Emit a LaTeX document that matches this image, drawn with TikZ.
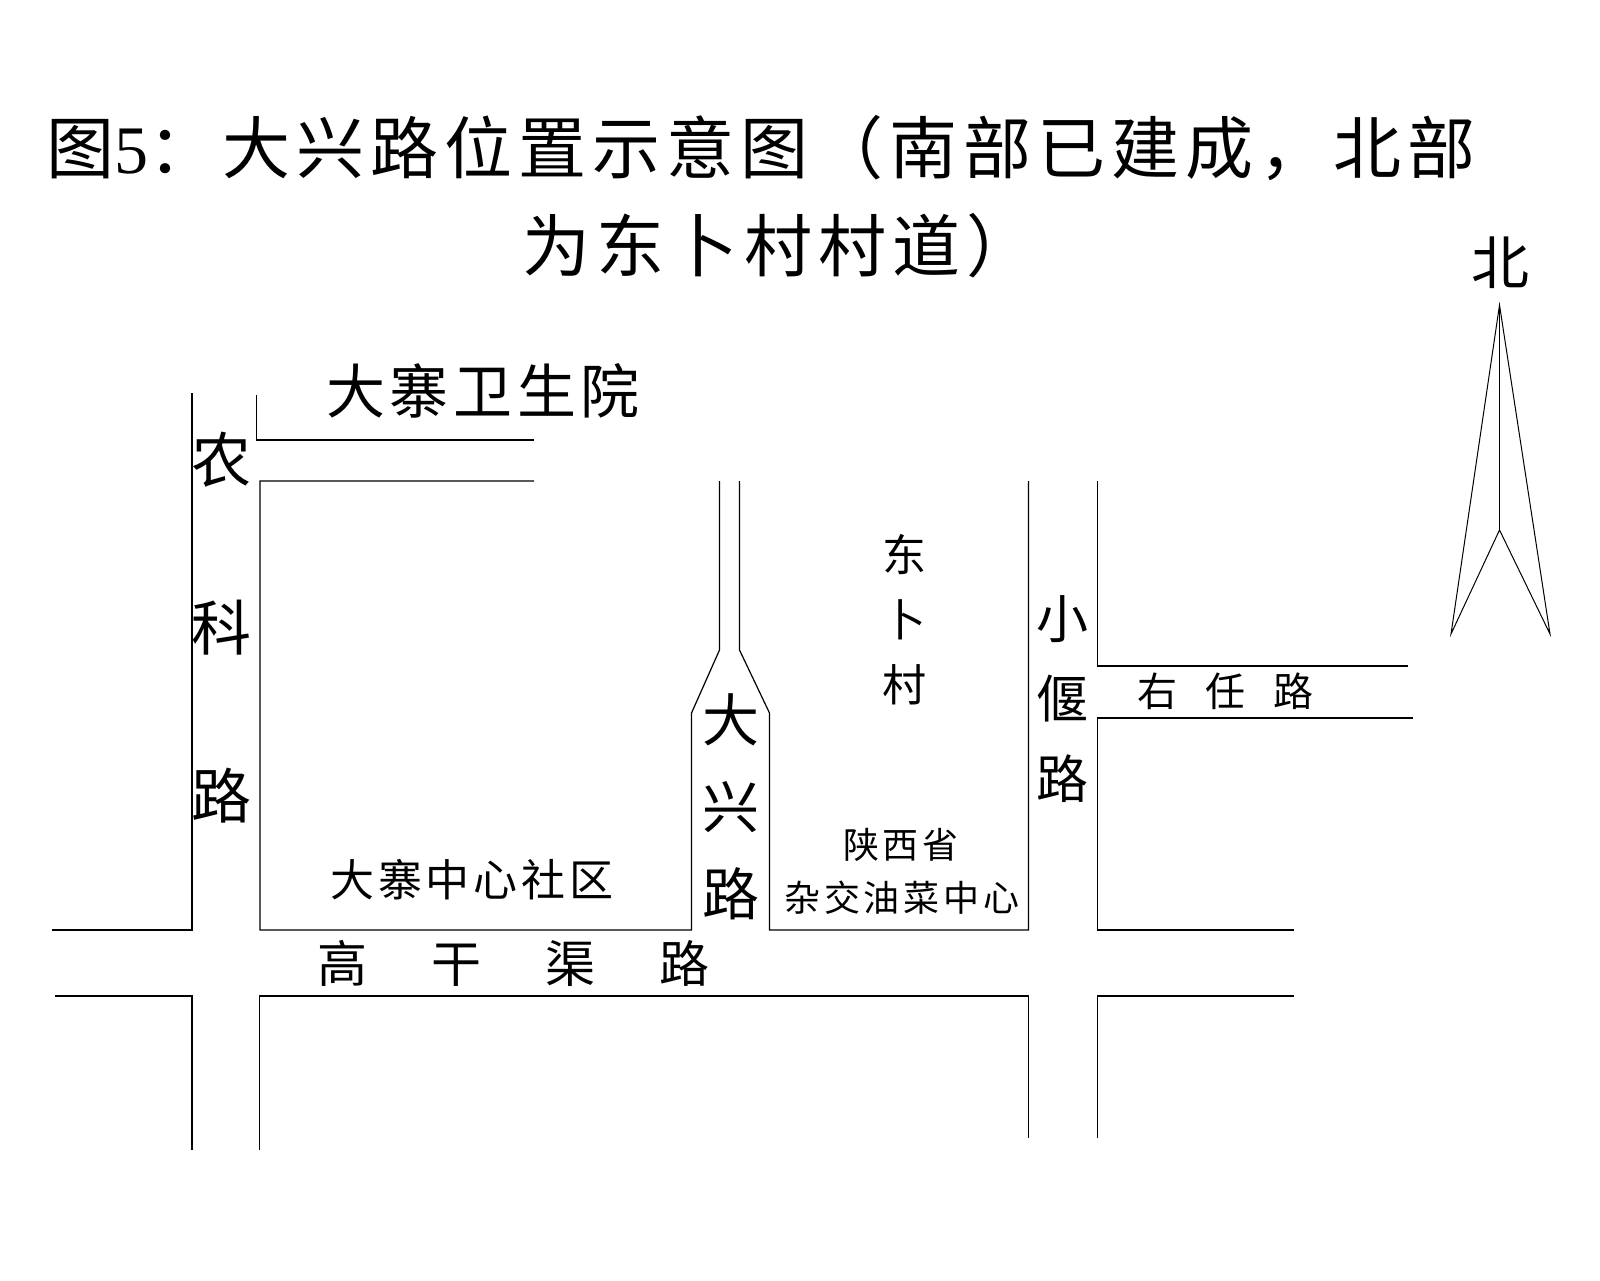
\documentclass[tikz,border=0pt]{standalone}
\usepackage{fontspec}
\setmainfont{Liberation Serif}
\newfontfamily\cjk{Noto Sans CJK SC}[Scale=1.0]
\newcommand\lab[3]{\fontsize{#1}{#2}\selectfont\cjk\addfontfeature{LetterSpace=#3}}
\tikzset{
  road/.style={line width=1.2pt,black,line join=miter},
  arrowline/.style={line width=1pt,black,line join=miter},
  txt/.style={inner sep=0pt,outer sep=0pt,align=center,black}
}
\begin{document}
\begin{tikzpicture}[x=1pt,y=-1pt]
\useasboundingbox (0,0) rectangle (1600,1280);
\fill[white] (0,0) rectangle (1600,1280);
% roads
\draw[road] (192,393) -- (192,930) -- (52,930);
\draw[road] (55,996) -- (192,996) -- (192,1150);
\draw[road] (256.5,395) -- (256.5,440) -- (534,440);
\draw[road] (534,481) -- (260,481) -- (260,930) -- (691.5,930) -- (691.5,713) -- (719.5,650) -- (719.5,481);
\draw[road] (739.5,481) -- (739.5,650) -- (769.5,713) -- (769.5,930) -- (1028.5,930) -- (1028.5,481);
\draw[road] (259.5,1150) -- (259.5,996) -- (1028.5,996) -- (1028.5,1138);
\draw[road] (1097.5,481) -- (1097.5,666) -- (1408,666);
\draw[road] (1413,718) -- (1097.5,718) -- (1097.5,930) -- (1294,930);
\draw[road] (1294,996) -- (1097.5,996) -- (1097.5,1138);
% north arrow
\draw[arrowline] (1499.5,305) -- (1451,634) -- (1499.5,530) -- (1550,634) -- cycle;
\draw[arrowline] (1499.5,305) -- (1499.5,530);
% title
\node[txt,anchor=west,font=\lab{68}{74}{9}] (t1) at (46,148) {图{\rmfamily 5}：大兴路位置示意图（南部已建成，北部};
\node[txt,anchor=west,font=\lab{68}{74}{9}] (t2) at (522,246) {为东卜村村道）};
\node[txt,font=\lab{58}{60}{0}] (north) at (1500,263) {北};
% labels
\node[txt,font=\lab{59}{60}{8}] (hosp) at (483,391) {大寨卫生院};
\node[txt,font=\lab{60}{168}{0}] (nk) at (221,628) {农\\科\\路};
\node[txt,font=\lab{57}{87}{0}] (dx) at (731,807) {大\\兴\\路};
\node[txt,font=\lab{44}{65}{0}] (dbc) at (904,620) {东\\卜\\村};
\node[txt,font=\lab{52}{80}{0}] (xy) at (1062,699) {小\\偃\\路};
\node[txt,font=\lab{40}{42}{70}] (yr) at (1225,691) {右任路};
\node[txt,font=\lab{36}{38}{11}] (sx) at (901,845) {陕西省};
\node[txt,font=\lab{36}{38}{11}] (zj) at (902,898) {杂交油菜中心};
\node[txt,font=\lab{44}{46}{9}] (dz) at (472,880) {大寨中心社区};
\node[txt,font=\lab{50}{52}{128}] (gg) at (513,963) {高干渠路};
\end{tikzpicture}
\end{document}
